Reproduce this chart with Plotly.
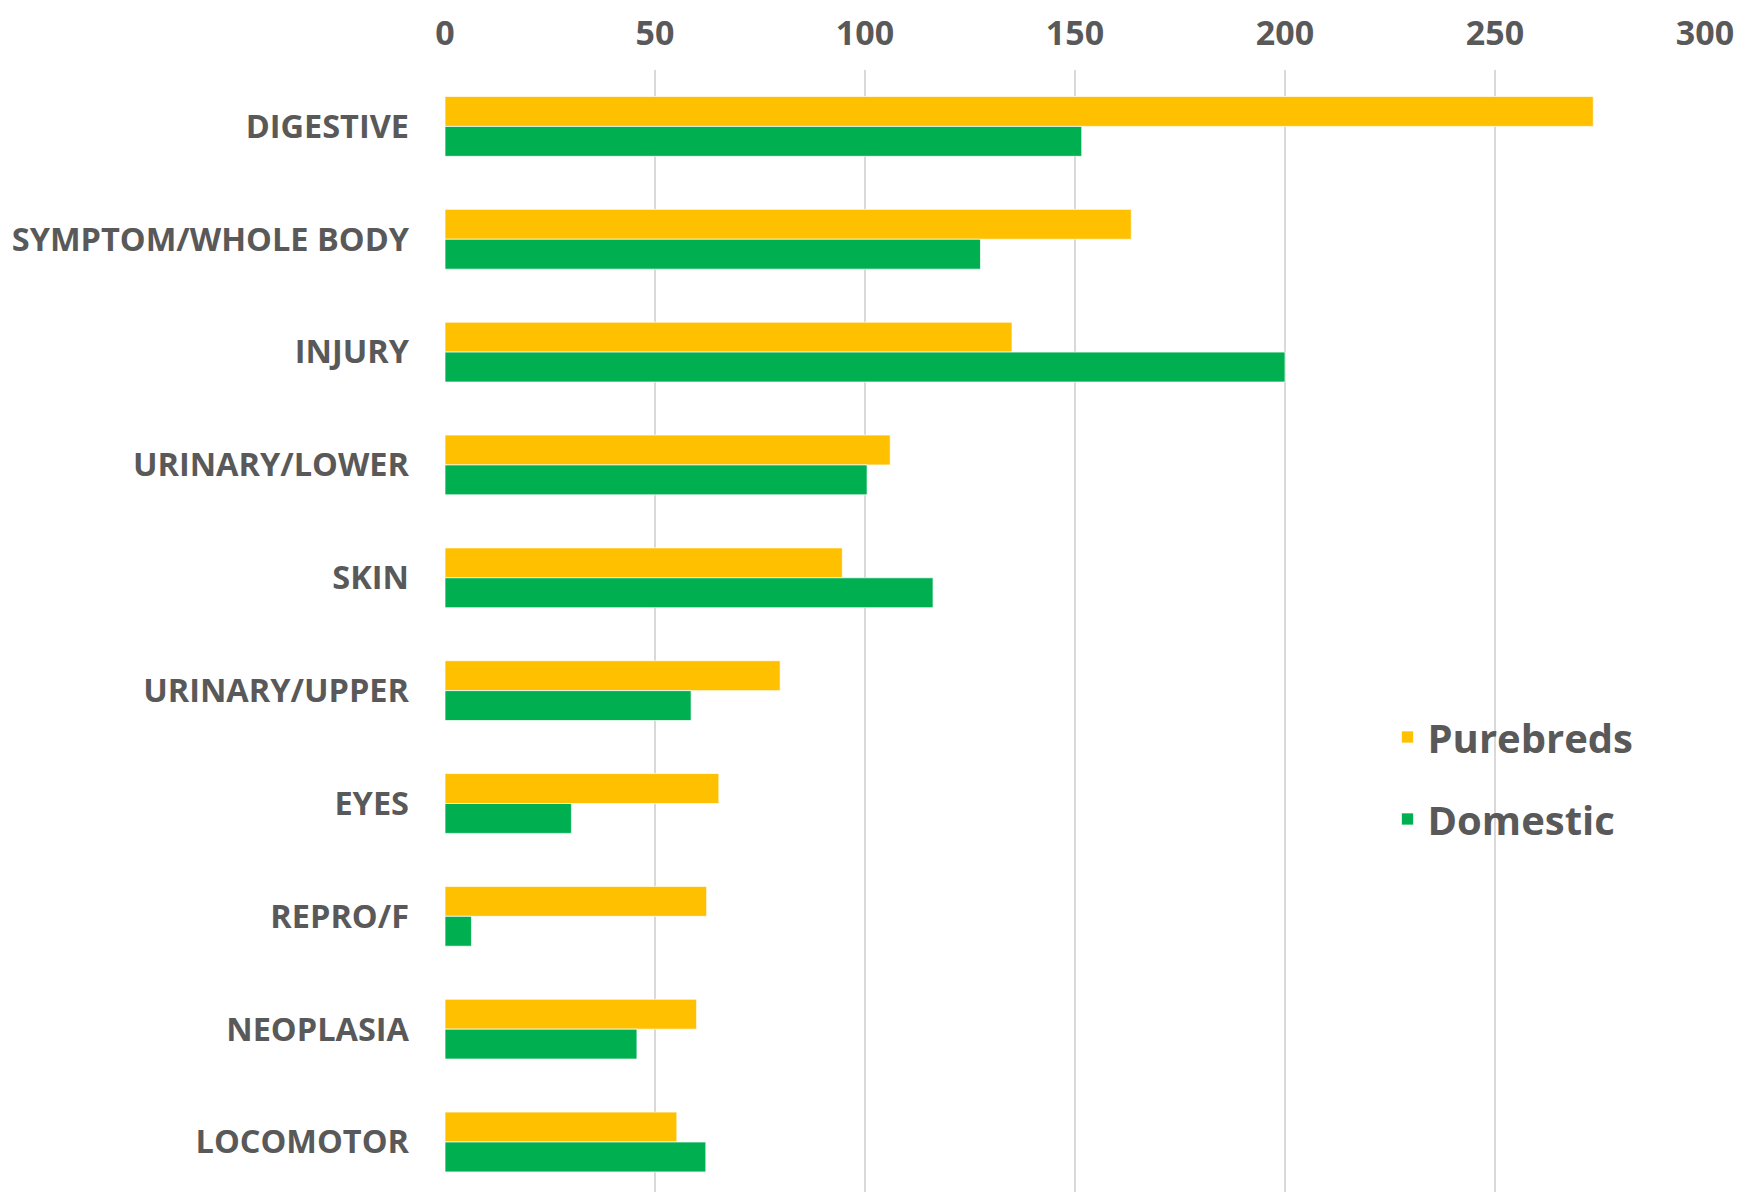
import plotly.graph_objects as go

categories = ["DIGESTIVE", "SYMPTOM/WHOLE BODY", "INJURY", "URINARY/LOWER", "SKIN",
              "URINARY/UPPER", "EYES", "REPRO/F", "NEOPLASIA", "LOCOMOTOR"]
purebreds = [273.4, 163.4, 135.0, 106.0, 94.6, 79.8, 65.2, 62.3, 59.9, 55.2]
domestic = [151.6, 127.5, 200.0, 100.5, 116.2, 58.6, 30.1, 6.3, 45.7, 62.1]
x_ticks = [0, 50, 100, 150, 200, 250, 300]

TEXT = "#595959"
FONT = "Open Sans"

fig = go.Figure()
fig.add_trace(go.Bar(
    name="Purebreds", y=categories, x=purebreds, orientation="h",
    marker=dict(color="#FFC000", line=dict(color="rgba(255,255,255,0.7)", width=1)),
    legendgroup="p",
))
fig.add_trace(go.Bar(
    name="Domestic", y=categories, x=domestic, orientation="h",
    marker=dict(color="#00B050", line=dict(color="rgba(255,255,255,0.7)", width=1)),
    legendgroup="d",
))

fig.update_layout(
    width=1752, height=1192,
    paper_bgcolor="white", plot_bgcolor="white",
    margin=dict(l=437, r=55, t=62, b=0, pad=0),
    barmode="group", bargap=0.47, bargroupgap=0,
    font=dict(family=FONT, color=TEXT),
    showlegend=True,
    legend=dict(
        x=0.748, y=0.4385, xanchor="left", yanchor="top",
        font=dict(family=FONT, size=40, color=TEXT, weight="bold"),
        tracegroupgap=27, traceorder="grouped",
        bgcolor="rgba(0,0,0,0)",
    ),
    xaxis=dict(
        side="top", range=[0, 300], tickvals=x_ticks, ticktext=[str(v) for v in x_ticks],
        showgrid=True, gridcolor="#D9D9D9", gridwidth=1.5,
        zeroline=False, showline=False, ticks="",
        tickfont=dict(family=FONT, size=34, color=TEXT, weight="bold"),
        ticklabelstandoff=17, automargin=False,
    ),
    yaxis=dict(
        type="category", categoryorder="array", categoryarray=categories,
        range=[9.514, -0.5],
        showgrid=False, zeroline=False, showline=False, ticks="",
        tickfont=dict(family=FONT, size=32.5, color=TEXT, weight="bold"),
        ticklabelstandoff=35, automargin=False,
    ),
)

fig.write_html("out.html")
